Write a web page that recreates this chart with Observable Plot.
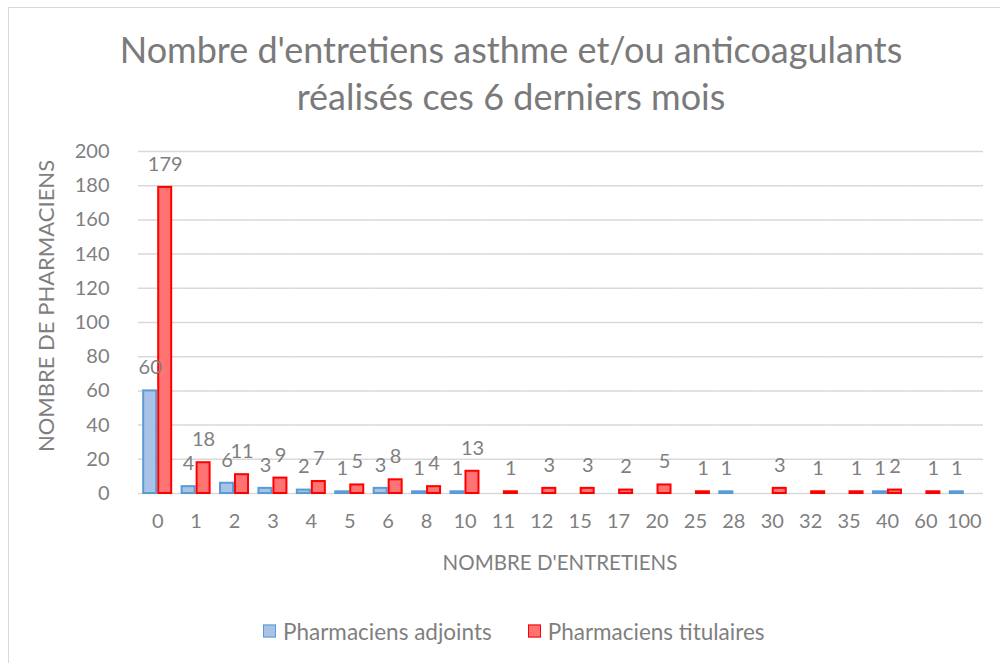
<!DOCTYPE html>
<html>
<head>
<meta charset="utf-8">
<script src="https://cdn.jsdelivr.net/npm/d3@7"></script>
<script src="https://cdn.jsdelivr.net/npm/@observablehq/plot@0.6"></script>
<style>
  html, body { margin: 0; padding: 0; background: #fff; overflow: hidden; }
  #wrap { position: relative; width: 1000px; height: 663px; font-family: Lato, "Open Sans", sans-serif; color: #7f7f7f; }
  #frame { position: absolute; left: 8px; top: 7px; width: 1100px; height: 800px; border-left: 1.5px solid #d9d9d9; border-top: 1.5px solid #d9d9d9; }
  #title { position: absolute; left: 11px; width: 1000px; top: 26px; text-align: center; font-size: 36px; line-height: 47px; color: #7a7a7a; }
  #chart { position: absolute; left: 0; top: 0; }
  #ylab { position: absolute; left: 45px; top: 306px; transform: translate(-50%, -50%) rotate(-90deg); white-space: nowrap; font-size: 22px; }
  #xlab { position: absolute; left: 560px; top: 562px; transform: translate(-50%, -50%); white-space: nowrap; font-size: 20.5px; }
  #legend { position: absolute; left: 263px; top: 631px; transform: translateY(-50%); display: flex; align-items: center; font-size: 22.5px; white-space: nowrap; }
  .sw { display: inline-block; width: 11px; height: 11px; margin-right: 7px; }
  .item { display: flex; align-items: center; margin-right: 36px; }
</style>
</head>
<body>
<div id="wrap">
  <div id="frame"></div>
  <div id="chart"></div>
  <div id="title">Nombre d'entretiens asthme et/ou anticoagulants<br>réalisés ces 6 derniers mois</div>
  <div id="ylab">NOMBRE DE PHARMACIENS</div>
  <div id="xlab">NOMBRE D'ENTRETIENS</div>
  <div id="legend"></div>
</div>
<script>
const categories = ["0","1","2","3","4","5","6","8","10","11","12","15","17","20","25","28","30","32","35","40","60","100"];
const adjoints   = [60, 4, 6, 3, 2, 1, 3, 1, 1, null, null, null, null, null, null, 1, null, null, null, 1, null, 1];
const titulaires = [179, 18, 11, 9, 7, 5, 8, 4, 13, 1, 3, 3, 2, 5, 1, null, 3, 1, 1, 2, 1, null];
const seriesNames = ["Pharmaciens adjoints", "Pharmaciens titulaires"];
const fills = ["#a8c3e6", "#ff7373"];
const strokes = ["#5b9bd5", "#ff0000"];
const yTicks = [0, 20, 40, 60, 80, 100, 120, 140, 160, 180, 200];

const rows = [];
categories.forEach((c, i) => {
  if (adjoints[i] != null) rows.push({cat: c, series: seriesNames[0], value: adjoints[i]});
  if (titulaires[i] != null) rows.push({cat: c, series: seriesNames[1], value: titulaires[i]});
});

const chart = Plot.plot({
  width: 1000,
  height: 600,
  marginLeft: 138,
  marginRight: 17,
  marginTop: 151,
  marginBottom: 107,
  style: {fontFamily: "Lato, 'Open Sans', sans-serif", color: "#7f7f7f", background: "transparent", overflow: "visible"},
  fx: {domain: categories, padding: 0, round: false},
  x: {domain: seriesNames, paddingInner: 0.133, paddingOuter: 0.347, round: false, axis: null},
  y: {domain: [0, 200], ticks: yTicks},
  color: {domain: seriesNames, range: fills},
  marks: [
    Plot.gridY(yTicks, {stroke: "#d9d9d9", strokeOpacity: 1, strokeWidth: 1.5}),
    Plot.axisY(yTicks, {tickSize: 0, tickPadding: 29, fontSize: 20, label: null, fill: "#7f7f7f"}),
    Plot.axisFx({anchor: "bottom", tickSize: 0, tickPadding: 20, fontSize: 20, label: null, fill: "#7f7f7f"}),
    Plot.barY(rows, {fx: "cat", x: "series", y: "value", fill: "series", stroke: (d) => strokes[seriesNames.indexOf(d.series)], strokeWidth: 2}),
    Plot.text(rows, {fx: "cat", x: "series", y: "value", text: "value", dy: -23, fontSize: 20, fill: "#7f7f7f"})
  ]
});
document.getElementById("chart").appendChild(chart);

const legend = document.getElementById("legend");
seriesNames.forEach((s, i) => {
  const item = document.createElement("span");
  item.className = "item";
  const sw = document.createElement("span");
  sw.className = "sw";
  sw.style.background = fills[i];
  sw.style.border = "1.5px solid " + strokes[i];
  item.appendChild(sw);
  item.appendChild(document.createTextNode(s));
  legend.appendChild(item);
});
</script>
</body>
</html>
